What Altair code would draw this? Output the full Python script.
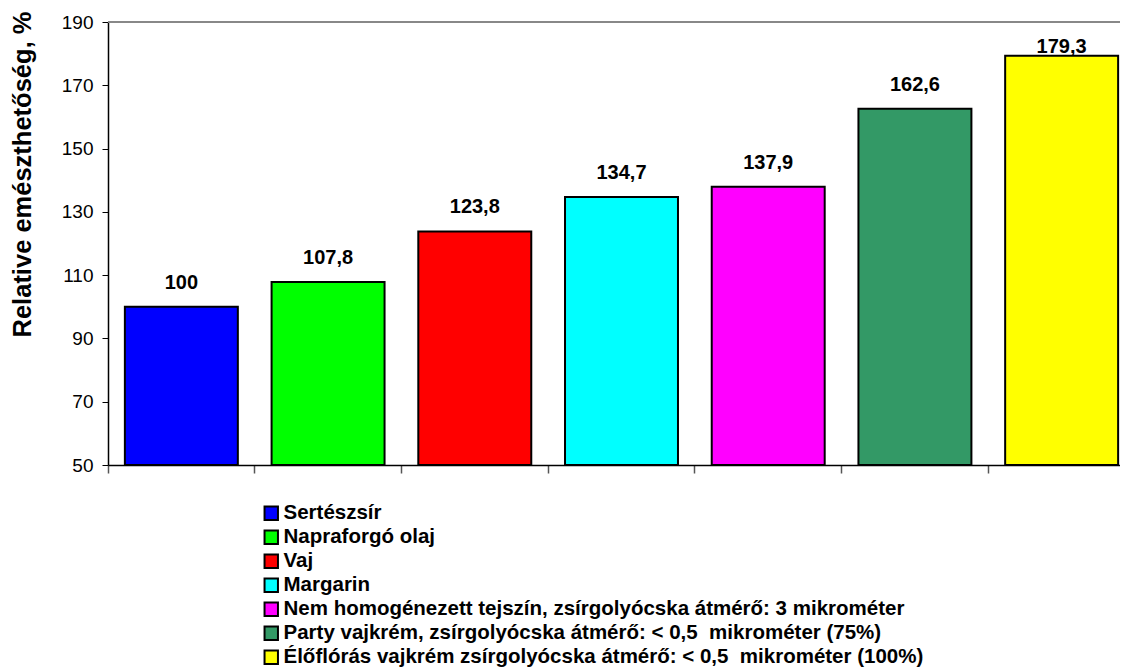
import altair as alt
import pandas as pd

categories = [
    "Sertészsír",
    "Napraforgó olaj",
    "Vaj",
    "Margarin",
    "Nem homogénezett tejszín, zsírgolyócska átmérő: 3 mikrométer",
    "Party vajkrém, zsírgolyócska átmérő: < 0,5\u00a0 mikrométer (75%)",
    "Élőflórás vajkrém zsírgolyócska átmérő: < 0,5\u00a0 mikrométer (100%)",
]
values = [100, 107.8, 123.8, 134.7, 137.9, 162.6, 179.3]
colors = ["#0000FF", "#00FF00", "#FF0000", "#00FFFF", "#FF00FF", "#339966", "#FFFF00"]
y_ticks = [50, 70, 90, 110, 130, 150, 170, 190]

df = pd.DataFrame({"cat": categories, "value": values})

FONT = "Liberation Sans"

x_enc = alt.X(
    "cat:N",
    sort=categories,
    scale=alt.Scale(range=[0, 1027], paddingInner=0, paddingOuter=0),
    axis=alt.Axis(
        labels=False, title=None, ticks=True, tickSize=8, bandPosition=0,
        domainColor="black", domainWidth=1.5, tickColor="#555555", tickWidth=1.5,
    ),
)
y_scale = alt.Scale(domain=[50, 190], zero=False, nice=False)

bars = alt.Chart(df).mark_bar(
    width={"band": 0.77}, stroke="black", strokeWidth=2, opacity=1
).encode(
    x=x_enc,
    y=alt.Y(
        "value:Q",
        scale=y_scale,
        axis=alt.Axis(
            values=y_ticks, grid=False, domainColor="black", domainWidth=1.5,
            tickColor="black", tickSize=6, labelFontSize=19, labelFont=FONT,
            labelColor="black", labelPadding=9,
            title="Relative emészthetőség, %", titleFont=FONT, titleFontSize=25.5,
            titleFontWeight="bold", titleColor="black", titleAngle=270,
            titleX=-86, titleY=152, titleAlign="center", titleBaseline="middle",
        ),
    ),
    y2=alt.datum(50),
    color=alt.Color(
        "cat:N",
        sort=categories,
        scale=alt.Scale(domain=categories, range=colors),
        legend=alt.Legend(
            title=None, orient="none", legendX=153, legendY=481,
            symbolType="square", symbolSize=180, symbolStrokeColor="black",
            symbolStrokeWidth=2, symbolOpacity=1, labelFont=FONT,
            labelFontSize=20.5, labelFontWeight="bold", labelColor="black",
            labelLimit=1000, rowPadding=2, labelOffset=2,
        ),
    ),
)

labels = alt.Chart(df).transform_calculate(
    label="replace(toString(datum.value), '.', ',')",
    ly="min(datum.value + 7.6, 182.2)",
).mark_text(
    fontWeight="bold", fontSize=20, font=FONT, color="black", baseline="middle"
).encode(
    x=alt.X("cat:N", sort=categories, bandPosition=0.5),
    y=alt.Y("ly:Q", scale=y_scale),
    text="label:N",
)

top_line = alt.Chart(df).mark_rule(color="#888888", strokeWidth=2).encode(
    x=alt.value(0), x2=alt.value(1030), y=alt.value(0)
)

chart = alt.layer(bars, labels, top_line).properties(
    width=1010,
    height=443,
    autosize=alt.AutoSizeParams(type="none"),
    padding={"left": 100, "top": 14, "right": 2, "bottom": 206},
).configure_view(stroke=None)

chart.save("out.html", embed_options={"renderer": "svg", "actions": False})
